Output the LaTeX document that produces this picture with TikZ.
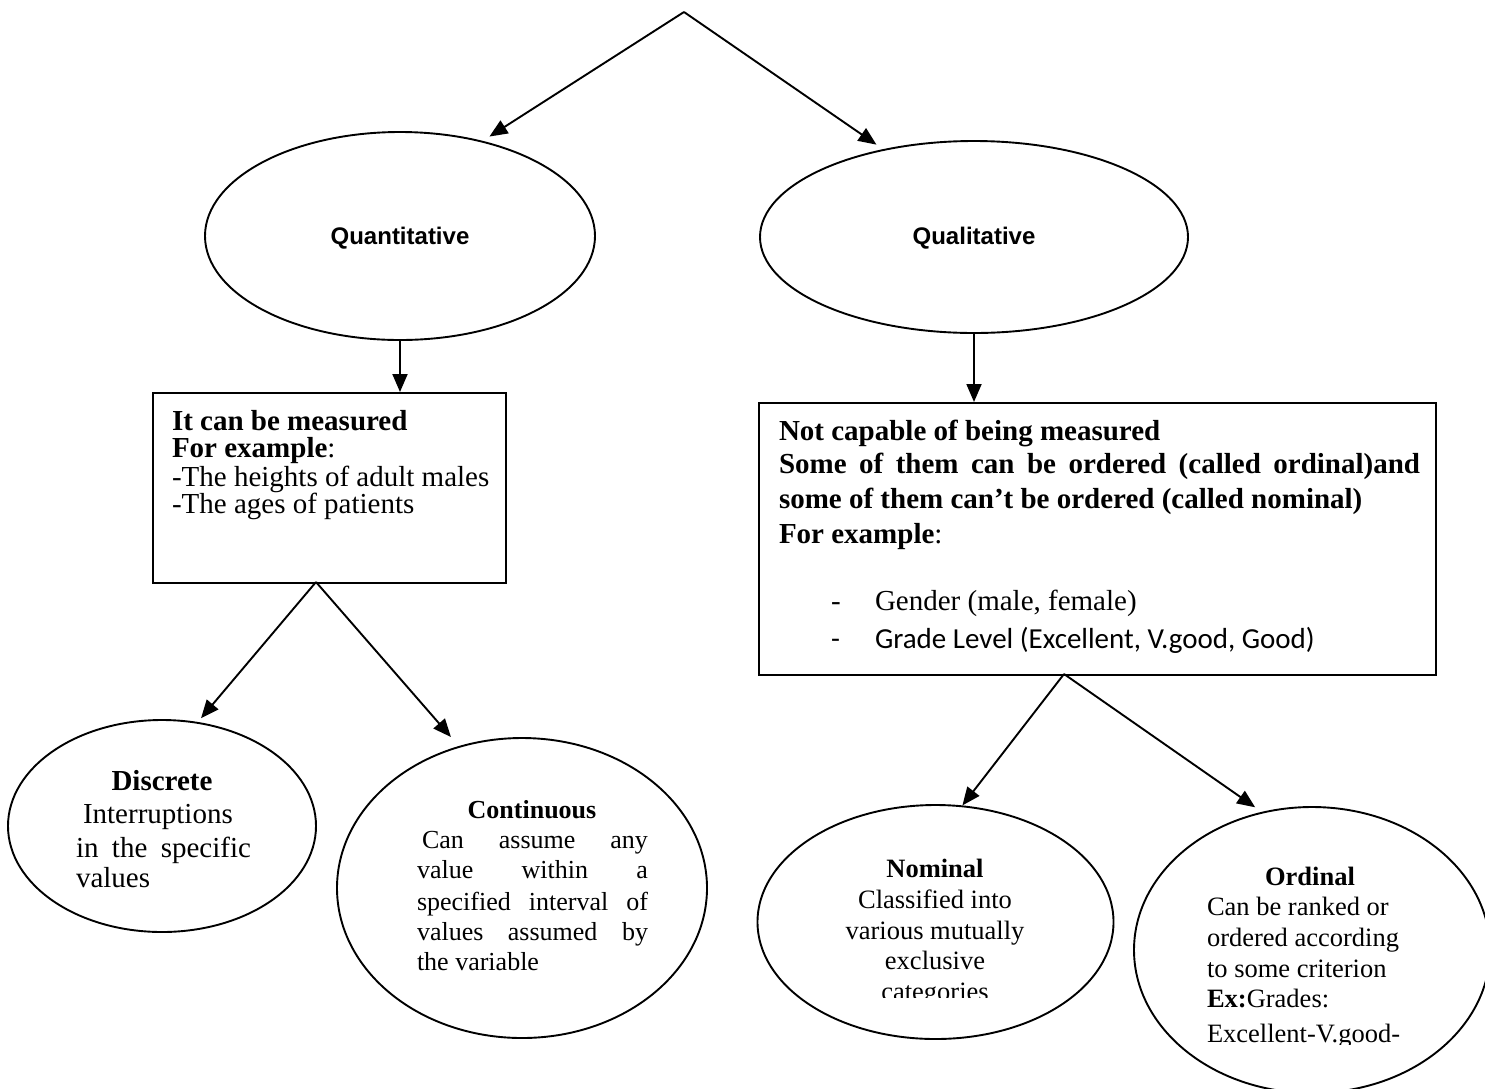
\documentclass[tikz,border=0pt]{standalone}
\usepackage{fontspec}
\setmainfont{Liberation Serif}
\newfontfamily\arialfont{Liberation Sans}
\newfontfamily\calibrifont{Carlito}
\usetikzlibrary{arrows.meta,shapes.geometric}
\begin{document}
\begin{tikzpicture}[x=1pt,y=-1pt,
  ovalnode/.style={draw, ellipse, line width=1.9pt, inner sep=0pt},
  boxnode/.style={draw, rectangle, line width=1.9pt, inner sep=0pt, anchor=north west},
  conn/.style={line width=1.9pt, -{Triangle[length=18pt,width=15pt]}},
  txt/.style={anchor=base west, inner sep=0pt, outer sep=0pt},
  ctxt/.style={anchor=base, inner sep=0pt, outer sep=0pt},
  big/.style={font=\fontsize{29}{33}\selectfont},
  mid/.style={font=\fontsize{26.5}{31}\selectfont},
  cont/.style={font=\fontsize{26}{30}\selectfont},
  head/.style={font=\arialfont\bfseries\fontsize{24}{28}\selectfont}
]
\useasboundingbox (0,0) rectangle (1485,1088);

% top level
\coordinate (apex) at (684,12);
\node[ovalnode, minimum width=390pt, minimum height=208pt] (quant) at (400,236) {};
\node[ovalnode, minimum width=428pt, minimum height=192pt] (qual) at (974,237) {};
\node[ctxt, head] (quantlbl) at (400,244) {Quantitative};
\node[ctxt, head] (quallbl) at (974,244) {Qualitative};

\draw[conn, shorten >=8pt] (apex) -- (quant.49.6);
\draw[conn, shorten >=8pt] (apex) -- (qual.136.2);

% boxes
\node[boxnode, minimum width=353pt, minimum height=190pt] (box1) at (152,392) {};
\node[boxnode, minimum width=677pt, minimum height=272pt] (box2) at (758,402) {};

\draw[conn] (quant.south) -- (quant.south |- box1.north);
\draw[conn] (qual.south) -- (qual.south |- box2.north);

% box 1 text
\node[txt, big] (b1a) at (172,430) {\textbf{It can be measured}};
\node[txt, big] (b1b) at (172,457) {\textbf{For example}:};
\node[txt, big] (b1c) at (172,486) {-The heights of adult males};
\node[txt, big] (b1d) at (172,513) {-The ages of patients};

% box 2 text
\node[txt, big] (b2a) at (779,440) {\textbf{Not capable of being measured}};
\node[txt, big] (b2b) at (779,473) {\makebox[641pt][s]{\bfseries Some of them can be ordered (called ordinal)and}};
\node[txt, big] (b2c) at (779,508) {\textbf{some of them can’t be ordered (called nominal)}};
\node[txt, big] (b2d) at (779,543) {\textbf{For example}:};
\node[txt, big] (b2e) at (831,610) {-};
\node[txt, big] (b2f) at (875,610) {Gender (male, female)};
\node[txt, font=\calibrifont\fontsize{29}{33}\selectfont] (b2g) at (831,648) {-};
\node[txt, font=\calibrifont\fontsize{29}{33}\selectfont] (b2h) at (875,648) {Grade Level (Excellent, V.good, Good)};

% lower ellipses
\node[ovalnode, minimum width=308pt, minimum height=212pt] (disc) at (162,826) {};
\node[ovalnode, minimum width=370pt, minimum height=300pt] (contn) at (522,888) {};
\node[ovalnode, minimum width=356pt, minimum height=234pt] (nomn) at (935.5,922) {};
\node[ovalnode, minimum width=356pt, minimum height=286pt] (ordn) at (1312,950) {};

\coordinate (s1) at (316,582);
\coordinate (s2) at (1064,674);
\draw[conn, shorten >=5pt] (s1) -- (disc.71);
\draw[conn, shorten >=12pt] (s1) -- (contn.114.9);
\draw[conn] (s2) -- (nomn.77);
\draw[conn, shorten >=8pt] (s2) -- (ordn.110.4);

% discrete text
\node[ctxt, big] (d1) at (162,790) {\textbf{Discrete}};
\node[txt, big] (d2) at (83,823) {Interruptions};
\node[txt, big] (d3) at (76,857) {\makebox[175pt][s]{in the specific}};
\node[txt, big] (d4) at (76,887) {values};

% continuous text
\node[ctxt, cont] (c1) at (532,818) {\textbf{Continuous}};
\node[txt, cont] (c2) at (422,848) {\makebox[226pt][s]{Can assume any}};
\node[txt, cont] (c3) at (417,878) {\makebox[231pt][s]{value within a}};
\node[txt, cont] (c4) at (417,910) {\makebox[231pt][s]{specified interval of}};
\node[txt, cont] (c5) at (417,940) {\makebox[231pt][s]{values assumed by}};
\node[txt, cont] (c6) at (417,970) {the variable};

% nominal text
\node[ctxt, mid] (n1) at (935,877) {\textbf{Nominal}};
\node[ctxt, mid] (n2) at (935,908) {Classified into};
\node[ctxt, mid] (n3) at (935,939) {various mutually};
\node[ctxt, mid] (n4) at (935,969) {exclusive};
\begin{scope}
\clip (820,975) rectangle (1050,997);
\node[ctxt, mid] (n5) at (935,1000) {categories};
\end{scope}

% ordinal text
\node[ctxt, mid] (o1) at (1310,885) {\textbf{Ordinal}};
\node[txt, mid] (o2) at (1207,915) {Can be ranked or};
\node[txt, mid] (o3) at (1207,946) {ordered according};
\node[txt, mid] (o4) at (1207,977) {to some criterion};
\node[txt, mid] (o5) at (1207,1007) {\textbf{Ex:}Grades:};
\begin{scope}
\clip (1190,1012) rectangle (1440,1044);
\node[txt, mid] (o6) at (1207,1042) {Excellent-V.good-};
\end{scope}
\end{tikzpicture}
\end{document}
